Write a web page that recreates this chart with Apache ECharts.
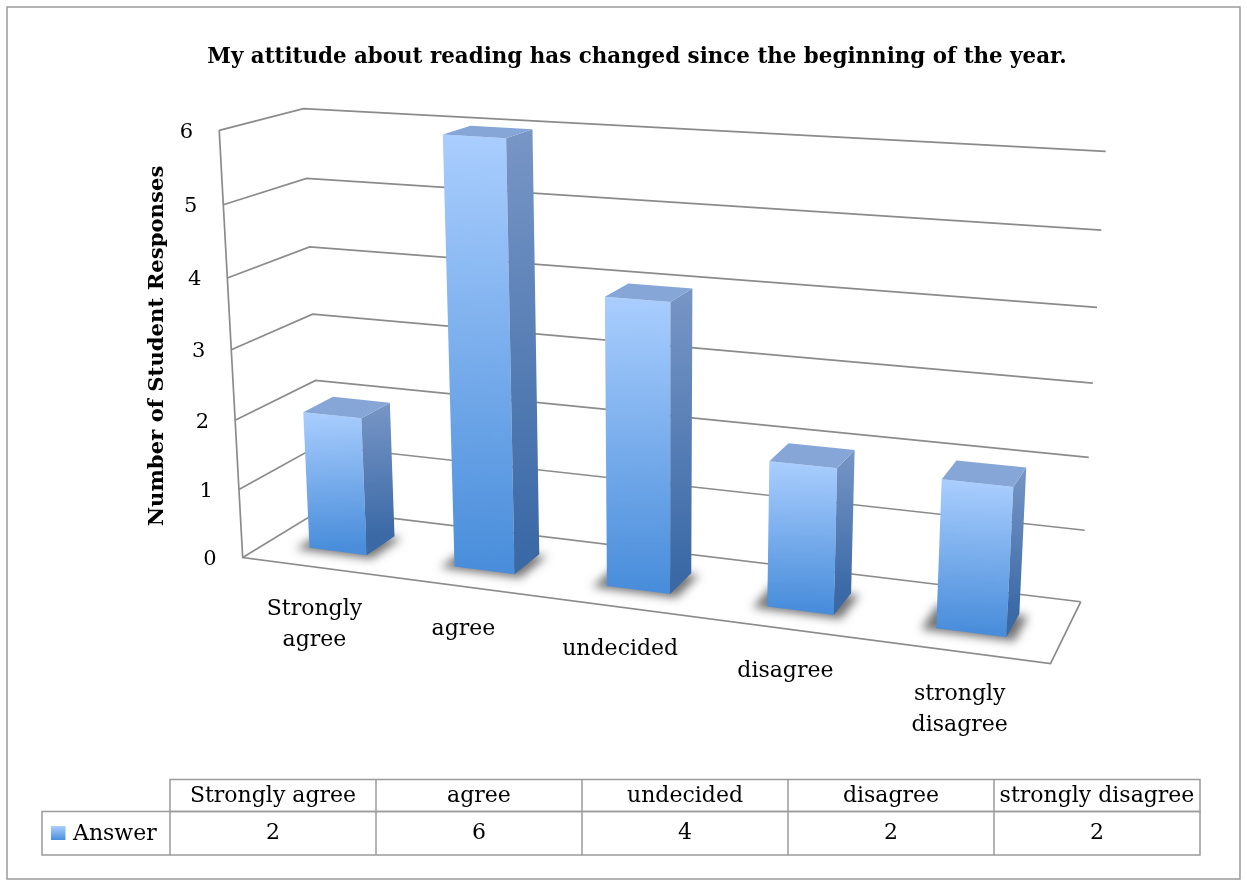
<!DOCTYPE html>
<html><head><meta charset="utf-8">
<script src="https://cdn.jsdelivr.net/npm/echarts@6/dist/echarts.min.js"></script>
<style>html,body{margin:0;padding:0;background:#fff}#c{width:1247px;height:886px}</style>
</head><body><div id="c"></div>
<script>
const chartTitle = 'My attitude about reading has changed since the beginning of the year.';
const yAxisTitle = 'Number of Student Responses';
const seriesName = 'Answer';
const categories = ['Strongly agree','agree','undecided','disagree','strongly disagree'];
const axisLabels = ['Strongly\nagree','agree','undecided','disagree','strongly\ndisagree'];
const answers = [2,6,4,2,2];
const yTicks = [0,1,2,3,4,5,6];

const FONT = 'DejaVu Serif';

// ---- camera calibration (layout only): world [X,Y,Z] -> screen [u,v]
const HW = 0.20, HD = 0.19, ZC = 0.49;   // bar half-width, half-depth, depth centre
const boxRefs = [
 [0,6,0,219,129.3],[0,5,0,223.3,204.3],[0,1,0,239.3,489],[0,0,0,242.7,557.3],
 [0,6,1,303.3,109],[0,5,1,306.7,178.3],
 [5,0,1,1081,602.3],[5,1,1,1085,531],[5,2,1,1089.3,457.7],[5,3,1,1093,383.3],
 [5,4,1,1097.3,307.7],[5,5,1,1101,229.7],[5,6,1,1105.3,151],
 [5,0,0,1050,664]
];
const barRefs = [
 [0,-1,2,-1,303.3,412.7],[0,1,2,-1,361.7,419.3],[0,-1,0,-1,309.3,549.3],[0,1,0,-1,367.3,555.7],[0,1,2,1,390,403.3],[0,-1,2,1,331.7,396.7],
 [1,-1,6,-1,442.7,134.3],[1,1,6,-1,506.7,139.3],[1,1,6,1,532.7,129],[1,-1,6,1,471.7,125.7],[1,-1,0,-1,454.3,567.7],[1,1,0,-1,515,574],[1,1,0,1,539.3,551.7],
 [2,-1,4,-1,605,296.7],[2,1,4,-1,670,301.7],[2,1,4,1,691,289],[2,-1,4,1,628.3,283.3],[2,-1,0,-1,606.7,586.7],[2,1,0,-1,669.3,594.3],[2,1,0,1,691.7,570],
 [4,1,2,-1,1014.3,486],[4,1,2,1,1025,468.3],[4,1,0,-1,1006.7,636.7]
];

function fitCamera(pts){
  const n=11, M=[], r=new Array(n).fill(0);
  for(let i=0;i<n;i++) M.push(new Array(n).fill(0));
  for(const q of pts){
    const X=q[0],Y=q[1],Z=q[2],u=(q[3]-640)/400,v=(q[4]-400)/400;
    const rows=[[X,Y,Z,1,0,0,0,0,-u*X,-u*Y,-u*Z,u],[0,0,0,0,X,Y,Z,1,-v*X,-v*Y,-v*Z,v]];
    for(const row of rows){ for(let i=0;i<n;i++){ r[i]+=row[i]*row[11]; for(let j=0;j<n;j++) M[i][j]+=row[i]*row[j]; } }
  }
  for(let k=0;k<n;k++){
    let piv=k; for(let i=k+1;i<n;i++) if(Math.abs(M[i][k])>Math.abs(M[piv][k])) piv=i;
    let t=M[k]; M[k]=M[piv]; M[piv]=t; t=r[k]; r[k]=r[piv]; r[piv]=t;
    for(let i=k+1;i<n;i++){ const f=M[i][k]/M[k][k]; for(let j=k;j<n;j++) M[i][j]-=f*M[k][j]; r[i]-=f*r[k]; }
  }
  const p=new Array(n).fill(0);
  for(let i=n-1;i>=0;i--){ let s=r[i]; for(let j=i+1;j<n;j++) s-=M[i][j]*p[j]; p[i]=s/M[i][i]; }
  return p;
}
function projWith(p,X,Y,Z){
  const w=p[8]*X+p[9]*Y+p[10]*Z+1;
  return [(p[0]*X+p[1]*Y+p[2]*Z+p[3])/w*400+640,(p[4]*X+p[5]*Y+p[6]*Z+p[7])/w*400+400];
}
const CAM = fitCamera(boxRefs.concat(barRefs.map(q=>[q[0]+0.5+q[1]*HW,q[2],ZC+q[3]*HD,q[4],q[5]])));
const P=(X,Y,Z)=>projWith(CAM,X,Y,Z);

const chart = echarts.init(document.getElementById('c'), null, {renderer:'canvas'});
const nCat = categories.length;
const yMax = yTicks[yTicks.length-1];
const gridStroke = '#8b8b8b';

function worldX(params, api, idx){
  const cs=params.coordSys, bw=api.size([1,0])[0];
  return (api.coord([idx,0])[0]-cs.x)/bw;
}
function worldY(params, api, val){
  const cs=params.coordSys, unit=api.size([0,1])[1];
  return (cs.y+cs.height-api.coord([0,val])[1])/unit;
}

const frontGrad=(a,b)=>new echarts.graphic.LinearGradient(a[0],a[1],b[0],b[1],[{offset:0,color:'#aacefe'},{offset:1,color:'#4a8edb'}],true);
const sideGrad=(a,b)=>new echarts.graphic.LinearGradient(a[0],a[1],b[0],b[1],[{offset:0,color:'#7896c6'},{offset:1,color:'#3a69a6'}],true);

// table layout
const tblX0=42, tblC0=170, tblColW=206, tblY0=779.5, tblY1=811.5, tblY2=855;
const graphics=[
  {type:'rect', z:-10, shape:{x:7,y:7,width:1233,height:872}, style:{fill:'#fff',stroke:'#9b9b9b',lineWidth:1.5}},
  {type:'text', x:157, y:346, rotation:Math.PI/2, style:{text:yAxisTitle, align:'center', verticalAlign:'middle', fontSize:21.2, fontWeight:'bold', fontFamily:FONT, fill:'#000'}},
  {type:'rect', shape:{x:tblC0,y:tblY0,width:tblColW*nCat,height:tblY1-tblY0}, style:{fill:null,stroke:'#9b9b9b',lineWidth:1.5}},
  {type:'rect', shape:{x:tblX0,y:tblY1,width:tblC0+tblColW*nCat-tblX0,height:tblY2-tblY1}, style:{fill:null,stroke:'#9b9b9b',lineWidth:1.5}},
  {type:'line', shape:{x1:tblC0,y1:tblY1,x2:tblC0,y2:tblY2}, style:{stroke:'#9b9b9b',lineWidth:1.5}},
  {type:'rect', shape:{x:51,y:826,width:14.5,height:14}, style:{fill:new echarts.graphic.LinearGradient(0,0,0,1,[{offset:0,color:'#aacefe'},{offset:1,color:'#4a8edb'}])}},
  {type:'text', x:73, y:834, style:{text:seriesName, align:'left', verticalAlign:'middle', fontSize:22, fontFamily:FONT, fill:'#000'}}
];
categories.forEach((cat,i)=>{
  const cx=tblC0+tblColW*(i+0.5);
  if(i>0){
    graphics.push({type:'line', shape:{x1:tblC0+tblColW*i,y1:tblY0,x2:tblC0+tblColW*i,y2:tblY2}, style:{stroke:'#9b9b9b',lineWidth:1.5}});
  }
  graphics.push({type:'text', x:cx, y:(tblY0+tblY1)/2+1, style:{text:cat, align:'center', verticalAlign:'middle', fontSize:22, fontFamily:FONT, fill:'#000'}});
  graphics.push({type:'text', x:cx, y:(tblY1+tblY2)/2, style:{text:String(answers[i]), align:'center', verticalAlign:'middle', fontSize:22, fontFamily:FONT, fill:'#000'}});
});

const SHIFT = 3000; // draw the shadow caster off-canvas so only its blurred shadow shows
const option = {
  animation:false,
  backgroundColor:'#fff',
  title:{text:chartTitle, left:632, top:42, textAlign:'center', textStyle:{fontFamily:FONT, fontWeight:'bold', fontSize:21.4, color:'#000'}},
  grid:{left:0, top:0, width:500, height:600, show:false},
  xAxis:{type:'category', data:categories, show:false},
  yAxis:{type:'value', min:0, max:yMax, interval:1, show:false},
  graphic:graphics,
  series:[
    { type:'custom', name:'walls', silent:true, z:1, data:yTicks.map(v=>[0,v]),
      renderItem(params, api){
        const Y=worldY(params, api, api.value(1));
        const a=P(0,Y,0), b=P(0,Y,1), c=P(nCat,Y,1);
        const ch=[
          {type:'polyline', shape:{points:[a,b,c]}, style:{stroke:gridStroke, lineWidth:1.7, fill:null}},
          {type:'text', style:{text:String(api.value(1)), x:a[0]-26, y:a[1]+2, align:'right', verticalAlign:'middle', fontSize:21, fontFamily:FONT, fill:'#000'}}
        ];
        if(params.dataIndex===0){
          const yTop=worldY(params, api, yMax);
          const f0=P(0,0,0), f1=P(nCat,0,0), f2=P(nCat,0,1), t=P(0,yTop,0);
          ch.push({type:'polyline', shape:{points:[t,f0,f1,f2]}, style:{stroke:gridStroke, lineWidth:1.7, fill:null}});
        }
        return {type:'group', children:ch};
      }
    },
    { type:'custom', name:seriesName, silent:true, z:3, data:answers.map((v,i)=>[i,v]),
      renderItem(params, api){
        const Xc=worldX(params, api, api.value(0));
        const Y=worldY(params, api, api.value(1));
        const x0=Xc-HW, x1=Xc+HW, z0=ZC-HD, z1=ZC+HD;
        const ftl=P(x0,Y,z0), ftr=P(x1,Y,z0), fbl=P(x0,0,z0), fbr=P(x1,0,z0);
        const btl=P(x0,Y,z1), btr=P(x1,Y,z1), bbr=P(x1,0,z1);
        const sh=[P(x0-0.08,0,z0-0.03),P(x1+0.05,0,z0-0.03),P(x1+0.05,0,z1),P(x0-0.08,0,z1)].map(p=>[p[0]-SHIFT,p[1]+1]);
        return {type:'group', children:[
          {type:'polygon', shape:{points:sh}, style:{fill:'#000', shadowBlur:10, shadowColor:'rgba(0,0,0,0.55)', shadowOffsetX:SHIFT, shadowOffsetY:0}},
          {type:'polygon', shape:{points:[fbl,fbr,ftr,ftl]}, style:{fill:frontGrad(ftl,fbl)}},
          {type:'polygon', shape:{points:[fbr,bbr,btr,ftr]}, style:{fill:sideGrad(btr,bbr)}},
          {type:'polygon', shape:{points:[ftl,ftr,btr,btl]}, style:{fill:'#86a6d7'}}
        ]};
      }
    },
    { type:'custom', name:'catLabels', silent:true, z:4, data:axisLabels.map((t,i)=>[i,0]),
      renderItem(params, api){
        const Xc=worldX(params, api, api.value(0));
        const q=P(Xc,0,0);
        return {type:'text', style:{text:axisLabels[params.dataIndex], x:q[0], y:q[1]+27, align:'center', verticalAlign:'top', fontSize:22, lineHeight:31, fontFamily:FONT, fill:'#000'}};
      }
    }
  ]
};
chart.setOption(option);
</script></body></html>
